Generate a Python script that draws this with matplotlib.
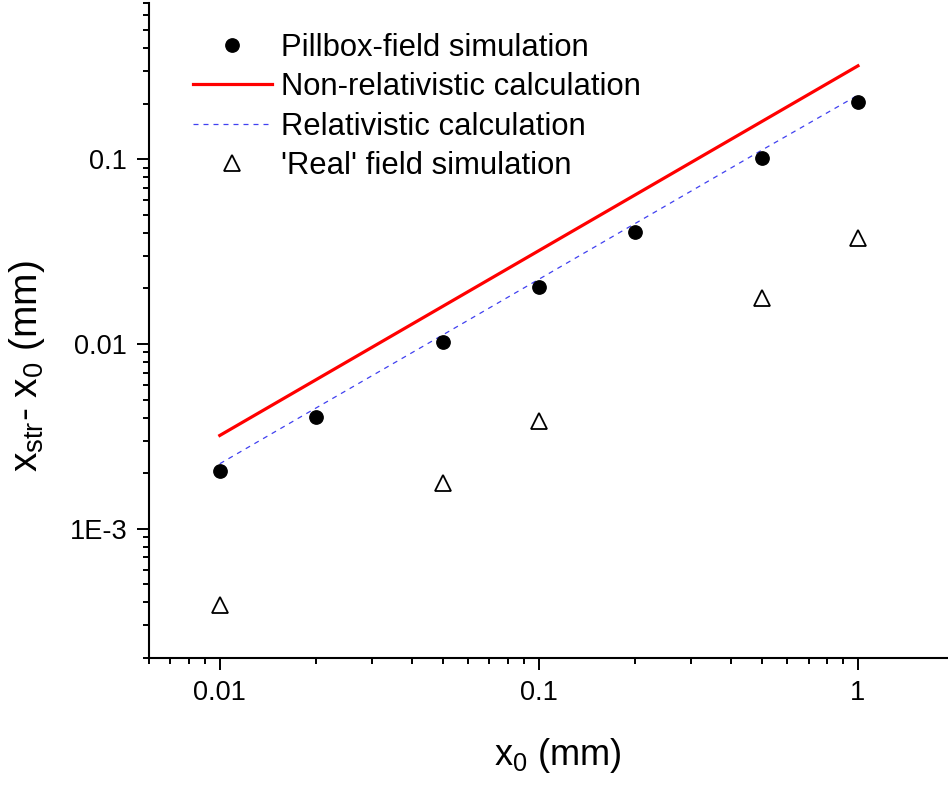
import matplotlib
matplotlib.use("Agg")
import matplotlib.pyplot as plt
from matplotlib.ticker import LogLocator, NullFormatter

plt.rcParams['font.family'] = ['Liberation Sans', 'DejaVu Sans']
plt.rcParams['mathtext.default'] = 'regular'

# x0 (mm)
x0 = [0.01, 0.02, 0.05, 0.1, 0.2, 0.5, 1.0]
pillbox = [0.00206, 0.00405, 0.0102, 0.0204, 0.0405, 0.101, 0.204]
nonrel = [0.0032, 0.0064, 0.016, 0.032, 0.064, 0.16, 0.32]
rel = [0.00225, 0.0045, 0.0112, 0.0224, 0.0448, 0.112, 0.222]

x_real = [0.01, 0.05, 0.1, 0.5, 1.0]
real = [0.000387, 0.00178, 0.00385, 0.0178, 0.0375]

xticks = [0.01, 0.1, 1]
xticklabels = ['0.01', '0.1', '1']
yticks = [1e-3, 1e-2, 1e-1]
yticklabels = ['1E-3', '0.01', '0.1']

fig = plt.figure(figsize=(9.48, 7.86), dpi=100)
ax = fig.add_axes([149 / 948, 1 - 658 / 786, 805 / 948, 655 / 786])

ax.plot(x0, pillbox, 'o', color='black', markersize=9.6, linestyle='none',
        label='Pillbox-field simulation', zorder=4)
ax.plot(x0, nonrel, '-', color='#ff0000', linewidth=2.3,
        label='Non-relativistic calculation', zorder=3)
ax.plot(x0, rel, color='#4040f0', linewidth=0.9, dashes=(4, 4),
        label='Relativistic calculation', zorder=3)
ax.plot(x_real, real, '^', markerfacecolor='white', markeredgecolor='black',
        markeredgewidth=1.3, markersize=12, linestyle='none',
        label="'Real' field simulation", zorder=4)

ax.set_xscale('log')
ax.set_yscale('log')
ax.set_xlim(0.006, 2.0)
ax.set_ylim(2e-4, 0.7)

ax.set_xticks(xticks)
ax.set_xticklabels(xticklabels)
ax.set_yticks(yticks)
ax.set_yticklabels(yticklabels)
ax.xaxis.set_minor_locator(LogLocator(base=10, subs=range(2, 10), numticks=20))
ax.yaxis.set_minor_locator(LogLocator(base=10, subs=range(2, 10), numticks=20))
ax.xaxis.set_minor_formatter(NullFormatter())
ax.yaxis.set_minor_formatter(NullFormatter())

for s in ['top', 'right']:
    ax.spines[s].set_visible(False)
for s in ['left', 'bottom']:
    ax.spines[s].set_linewidth(1.5)

ax.tick_params(which='major', direction='out', length=8.6, width=1.4,
               labelsize=19.5, pad=7)
ax.tick_params(which='minor', direction='out', length=4.3, width=1.4)

ax.set_xlabel('x$_0$ (mm)', fontsize=26)
ax.set_ylabel('x$_{str}$- x$_0$ (mm)', fontsize=28)
ax.xaxis.set_label_coords(0.508, -0.119)
ax.yaxis.set_label_coords(-0.127, 0.446)

ax.legend(loc='upper left', bbox_to_anchor=(193 / 948, 1 - 33 / 786),
          bbox_transform=fig.transFigure, frameon=False, fontsize=22.3,
          handlelength=2.55, handletextpad=0.28, labelspacing=0.3,
          borderpad=0, borderaxespad=0)

fig.savefig('out.png', dpi=100)
